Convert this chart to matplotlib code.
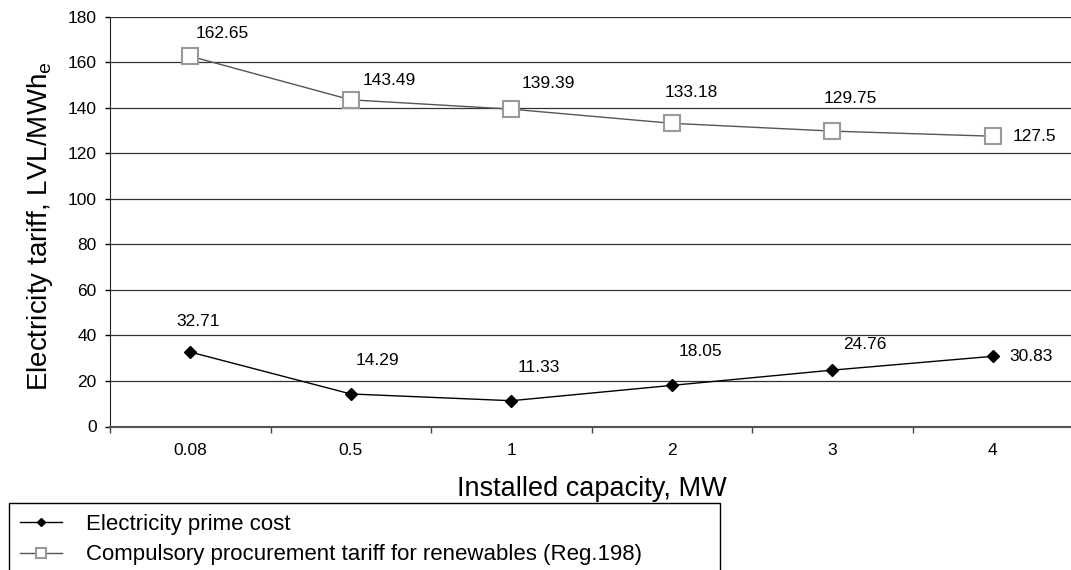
import matplotlib

matplotlib.use("Agg")

import matplotlib.pyplot as plt
import numpy as np
from matplotlib.ticker import FixedLocator, MultipleLocator

plt.rcParams["font.family"] = ["Liberation Sans", "DejaVu Sans"]
plt.rcParams["mathtext.default"] = "regular"

capacities = ["0.08", "0.5", "1", "2", "3", "4"]
prime_cost = [32.71, 14.29, 11.33, 18.05, 24.76, 30.83]
procurement_tariff = [162.65, 143.49, 139.39, 133.18, 129.75, 127.5]

prime_label = "Electricity prime cost"
tariff_label = "Compulsory procurement tariff for renewables (Reg.198)"

# label offsets in pixels
prime_offsets = [(8, 31), (27, 33), (28, 33), (29, 34), (33, 26), (38, 0)]
tariff_offsets = [(32, 23), (39, 19), (37, 26), (19, 31), (18, 33), (42, 0)]

W, H = 1071, 570
figure = plt.figure(figsize=(W / 100, H / 100), dpi=100)
axis = figure.add_axes([110 / W, 1 - 426.5 / H, 963 / W, 409.8 / H])

x = np.arange(len(capacities))

(prime_line,) = axis.plot(
    x,
    prime_cost,
    color="black",
    linewidth=1.0,
    marker="D",
    markersize=6,
    markerfacecolor="black",
    markeredgecolor="black",
    label=prime_label,
    zorder=4,
)

(tariff_line,) = axis.plot(
    x,
    procurement_tariff,
    color="#555555",
    linewidth=1.0,
    marker="s",
    markersize=12,
    markerfacecolor="white",
    markeredgecolor="#999999",
    markeredgewidth=1.5,
    label=tariff_label,
    zorder=4,
)

for xi, value, (dx, dy) in zip(x, prime_cost, prime_offsets):
    axis.annotate(
        f"{value:g}",
        (xi, value),
        xytext=(dx, dy),
        textcoords="offset pixels",
        ha="center",
        va="center",
        fontsize=12.5,
    )

for xi, value, (dx, dy) in zip(x, procurement_tariff, tariff_offsets):
    axis.annotate(
        f"{value:g}",
        (xi, value),
        xytext=(dx, dy),
        textcoords="offset pixels",
        ha="center",
        va="center",
        fontsize=12.5,
    )

axis.set_xlim(-0.5, len(capacities) - 0.5)
axis.set_ylim(0, 180)
axis.yaxis.set_major_locator(MultipleLocator(20))
axis.set_xticks(x)
axis.set_xticklabels(capacities)
axis.xaxis.set_minor_locator(FixedLocator(np.arange(len(capacities) + 1) - 0.5))
axis.tick_params(axis="x", which="major", length=0, pad=12, labelsize=12.5)
axis.tick_params(axis="x", which="minor", length=4.5, width=1.0, color="#444444")
axis.tick_params(axis="y", length=3.6, width=1.0, pad=6, labelsize=12.5)

axis.grid(axis="y", color="#333333", linewidth=0.9)
axis.set_axisbelow(True)

for side in ["top", "right"]:
    axis.spines[side].set_visible(False)
axis.spines["left"].set_color("#222222")
axis.spines["bottom"].set_color("#555555")
axis.spines["bottom"].set_linewidth(1.5)

axis.set_xlabel("Installed capacity, MW", fontsize=19.5)
axis.xaxis.set_label_coords(0.5, -(489 - 426.5) / 409.8, transform=axis.transAxes)
axis.xaxis.label.set_va("center")
axis.set_ylabel("Electricity tariff, LVL/MWh$_e$", fontsize=20)
axis.yaxis.set_label_coords(-(110 - 40) / 963, 0.49)
axis.yaxis.label.set_va("center")

legend_height = 0.2
figure.legend(
    handles=[prime_line, tariff_line],
    loc="upper left",
    bbox_to_anchor=(9 / W, 1 - 503 / H - legend_height, 711 / W, legend_height),
    bbox_transform=figure.transFigure,
    mode="expand",
    borderaxespad=0,
    fontsize=16,
    frameon=True,
    fancybox=False,
    edgecolor="black",
    framealpha=1,
    markerscale=0.65,
    handlelength=1.9,
    handletextpad=1.05,
    labelspacing=0.42,
    borderpad=0.5,
)

figure.savefig("out.png", dpi=100)
plt.close(figure)
